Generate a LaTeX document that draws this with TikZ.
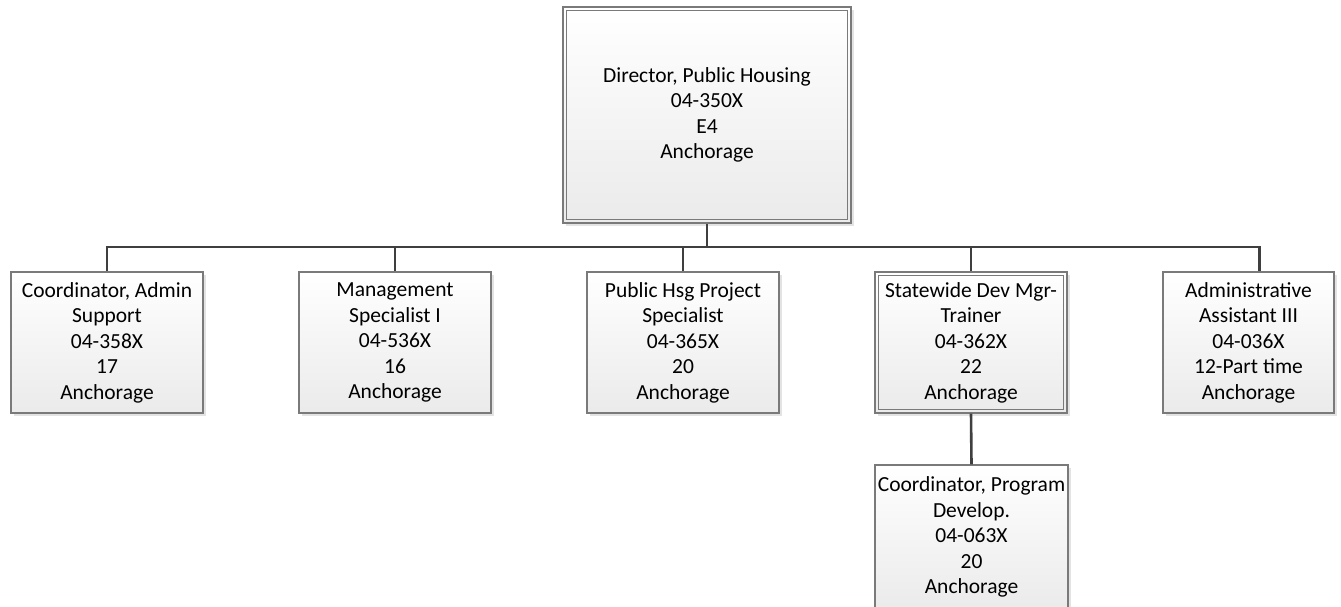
\documentclass[tikz,border=0pt]{standalone}
\usepackage{fontspec}
\setmainfont{Carlito}
\usetikzlibrary{shadows}
\definecolor{boxgray}{HTML}{7A7A7A}
\definecolor{linegray}{HTML}{3F3F3F}
\tikzset{
  box/.style={draw=boxgray, line width=1.2pt, top color=white, bottom color=black!8,
    drop shadow={shadow xshift=3pt, shadow yshift=-3pt, fill=black!11, opacity=1},
    align=center, font=\fontsize{21.5}{25.5}\selectfont, inner sep=0pt,
    minimum width=192pt, minimum height=141pt},
  conn/.style={draw=linegray, line width=2.6pt},
  inner/.style={draw=boxgray, line width=1.2pt}
}
\begin{document}
\begin{tikzpicture}[x=1pt,y=-1pt]
\useasboundingbox (0,0) rectangle (1341,607);
\clip (0,0) rectangle (1341,607);

\node[box, minimum width=288pt, minimum height=216pt] (dir) at (707,115)
  {Director, Public Housing\\04-350X\\E4\\Anchorage};
\draw[inner] ([shift={(4,4)}]dir.north west) rectangle ([shift={(-4,-4)}]dir.south east);

\node[box] (c1) at (107,342.5) {Coordinator, Admin\\Support\\04-358X\\17\\Anchorage};
\node[box] (c2) at (395,342.5) {Management\\Specialist I\\04-536X\\16\\Anchorage};
\node[box] (c3) at (683,342.5) {Public Hsg Project\\Specialist\\04-365X\\20\\Anchorage};
\node[box] (c4) at (971,342.5) {Statewide Dev Mgr-\\Trainer\\04-362X\\22\\Anchorage};
\draw[inner] ([shift={(4,4)}]c4.north west) rectangle ([shift={(-4,-4)}]c4.south east);
\node[box, minimum width=171pt] (c5) at (1248.5,342.5) {Administrative\\Assistant III\\04-036X\\12-Part time\\Anchorage};
\node[box, minimum width=193pt, minimum height=144pt] (c6) at (971.5,537)
  {Coordinator, Program\\Develop.\\04-063X\\20\\Anchorage};

\coordinate (bus) at (707,247);
\coordinate (s5) at ([xshift=11pt]c5.north);
\draw[conn] (dir.south) -- (bus);
\draw[conn] (c1.north) -- (c1.north |- bus) -- (bus -| s5) -- (s5);
\draw[conn] (c2.north) -- (c2.north |- bus);
\draw[conn] (c3.north) -- (c3.north |- bus);
\draw[conn] (c4.north) -- (c4.north |- bus);
\draw[conn] (c4.south) -- (c6.north);
\end{tikzpicture}
\end{document}
